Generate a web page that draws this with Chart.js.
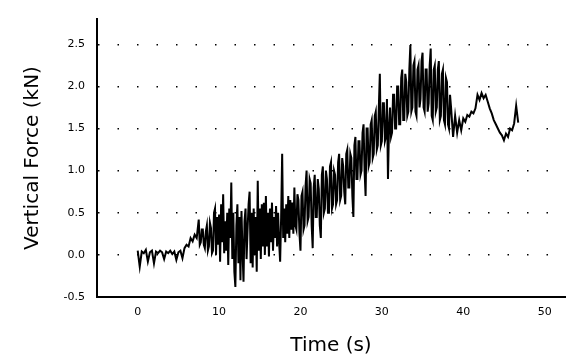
<!DOCTYPE html>
<html>
<head>
<meta charset="utf-8">
<script src="https://cdn.jsdelivr.net/npm/chart.js@4/dist/chart.umd.min.js"></script>
<style>
    html, body { margin: 0; padding: 0; background: #ffffff; }
    #forceChart { display: block; }
</style>
</head>
<body>
<canvas id="forceChart" width="571" height="358"></canvas>
<script>
// Time (s): every 0.25 s in the quiet parts, every 0.125 s in the noisy middle
const timeSec = [
    0, 0.25, 0.5, 0.75, 1, 1.25, 1.5, 1.75, 2, 2.25, 2.5, 2.75, 3, 3.25, 3.5, 3.75,
    4, 4.25, 4.5, 4.75, 5, 5.25, 5.5, 5.75, 6, 6.25, 6.5, 6.75, 7, 7.25,
    7.5, 7.625, 7.75, 7.875, 8, 8.125, 8.25, 8.375, 8.5, 8.625, 8.75, 8.875, 9, 9.125, 9.25, 9.375,
    9.5, 9.625, 9.75, 9.875, 10, 10.125, 10.25, 10.375, 10.5, 10.625, 10.75, 10.875, 11, 11.125, 11.25, 11.375,
    11.5, 11.625, 11.75, 11.875, 12, 12.125, 12.25, 12.375, 12.5, 12.625, 12.75, 12.875, 13, 13.125, 13.25, 13.375,
    13.5, 13.625, 13.75, 13.875, 14, 14.125, 14.25, 14.375, 14.5, 14.625, 14.75, 14.875, 15, 15.125, 15.25, 15.375,
    15.5, 15.625, 15.75, 15.875, 16, 16.125, 16.25, 16.375, 16.5, 16.625, 16.75, 16.875, 17, 17.125, 17.25, 17.375,
    17.5, 17.625, 17.75, 17.875, 18, 18.125, 18.25, 18.375, 18.5, 18.625, 18.75, 18.875, 19, 19.125, 19.25, 19.375,
    19.5, 19.625, 19.75, 19.875, 20, 20.125, 20.25, 20.375, 20.5, 20.625, 20.75, 20.875, 21, 21.125, 21.25, 21.375,
    21.5, 21.625, 21.75, 21.875, 22, 22.125, 22.25, 22.375, 22.5, 22.625, 22.75, 22.875, 23, 23.125, 23.25, 23.375,
    23.5, 23.625, 23.75, 23.875, 24, 24.125, 24.25, 24.375, 24.5, 24.625, 24.75, 24.875, 25, 25.125, 25.25, 25.375,
    25.5, 25.625, 25.75, 25.875, 26, 26.125, 26.25, 26.375, 26.5, 26.625, 26.75, 26.875, 27, 27.125, 27.25, 27.375,
    27.5, 27.625, 27.75, 27.875, 28, 28.125, 28.25, 28.375, 28.5, 28.625, 28.75, 28.875, 29, 29.125, 29.25, 29.375,
    29.5, 29.625, 29.75, 29.875, 30, 30.125, 30.25, 30.375, 30.5, 30.625, 30.75, 30.875, 31, 31.125, 31.25, 31.375,
    31.5, 31.625, 31.75, 31.875, 32, 32.125, 32.25, 32.375, 32.5, 32.625, 32.75, 32.875, 33, 33.125, 33.25, 33.375,
    33.5, 33.625, 33.75, 33.875, 34, 34.125, 34.25, 34.375, 34.5, 34.625, 34.75, 34.875, 35, 35.125, 35.25, 35.375,
    35.5, 35.625, 35.75, 35.875, 36, 36.125, 36.25, 36.375, 36.5, 36.625, 36.75, 36.875, 37, 37.125, 37.25, 37.375,
    37.5, 37.625, 37.75, 37.875, 38, 38.125, 38.25, 38.375, 38.5,
    38.75, 39, 39.25, 39.5, 39.75,
    40, 40.25, 40.5, 40.75, 41, 41.25, 41.5, 41.75, 42, 42.25, 42.5, 42.75, 43, 43.25, 43.5, 43.75,
    44, 44.25, 44.5, 44.75, 45, 45.25, 45.5, 45.75, 46, 46.25, 46.5, 46.75
];

// Vertical force (kN)
const forceKN = [
    0.05, -0.14, 0.04, 0.02, 0.06, -0.08, 0.03, 0.05, -0.1, 0.04, 0.02, 0.05, 0.03, -0.05, 0.04, 0.02,
    0.05, 0.01, 0.04, -0.06, 0.03, 0.05, -0.04, 0.08, 0.12, 0.1, 0.2, 0.16, 0.24, 0.2,
    0.42, 0.12, 0.15, 0.3, 0.3, 0.12, 0.08, 0.28, 0.35, 0.05, 0.1, 0.38, 0.32, 0.02, 0.05, 0.5,
    0.55, 0.0, 0.45, 0.12, 0.48, -0.08, 0.6, 0.15, 0.72, 0.02, 0.4, 0.05, 0.5, -0.12, 0.55, 0.2,
    0.86, -0.05, 0.5, -0.2, -0.38, 0.35, 0.6, -0.1, 0.45, -0.3, 0.52, 0.05, -0.32, 0.4, 0.55, -0.05,
    0.3, 0.6, 0.75, -0.1, 0.5, -0.15, 0.55, 0.0, 0.45, -0.2, 0.88, 0.05, 0.55, -0.05, 0.6, 0.1,
    0.62, 0.0, 0.7, 0.1, 0.5, -0.02, 0.55, 0.15, 0.62, 0.05, 0.45, 0.2, 0.58, 0.1, 0.5, 0.15,
    -0.08, 0.45, 1.2, 0.2, 0.55, 0.15, 0.6, 0.25, 0.7, 0.2, 0.65, 0.3, 0.62, 0.25, 0.8, 0.35,
    0.3, 0.72, 0.65, 0.25, 0.05, 0.7, 0.75, 0.3, 0.35, 0.82, 1.0, 0.4, 0.45, 0.9, 0.85, 0.35,
    0.08, 0.8, 0.95, 0.45, 0.45, 0.9, 0.78, 0.35, 0.2, 0.95, 1.05, 0.5, 0.55, 1.0, 0.9, 0.5,
    0.5, 1.05, 1.1, 0.55, 0.6, 1.0, 0.95, 0.6, 0.65, 1.1, 1.2, 0.65, 0.7, 1.15, 1.05, 0.75,
    0.6, 1.2, 1.25, 0.8, 0.8, 1.2, 1.15, 0.7, 0.45, 1.3, 1.4, 0.9, 0.9, 1.35, 1.35, 0.95,
    1.0, 1.45, 1.55, 1.0, 0.7, 1.5, 1.5, 1.05, 1.1, 1.55, 1.6, 1.15, 1.2, 1.65, 1.7, 1.25,
    1.3, 1.75, 2.15, 1.3, 1.35, 1.8, 1.8, 1.35, 1.4, 1.85, 0.9, 1.5, 1.75, 1.4, 1.45, 1.9,
    1.9, 1.5, 1.5, 2.0, 2.0, 1.55, 1.55, 2.1, 2.2, 1.6, 1.6, 2.15, 2.05, 1.65, 1.7, 2.2,
    2.49, 1.7, 1.75, 2.25, 2.3, 1.7, 1.65, 2.2, 2.25, 1.75, 1.85, 2.3, 2.4, 1.75, 1.7, 2.2,
    2.2, 1.7, 1.8, 2.25, 2.45, 1.65, 1.6, 2.2, 2.25, 1.7, 1.75, 2.2, 2.3, 1.6, 1.65, 2.15,
    2.2, 1.6, 1.55, 2.1, 2.05, 1.55, 1.5, 1.9, 1.75,
    1.4, 1.65, 1.45, 1.6, 1.48,
    1.62, 1.58, 1.66, 1.64, 1.7, 1.68, 1.74, 1.9, 1.84, 1.92, 1.86, 1.9, 1.82, 1.74, 1.68, 1.6,
    1.55, 1.5, 1.45, 1.42, 1.36, 1.44, 1.4, 1.5, 1.48, 1.56, 1.77, 1.57
];

const xTicks = [0, 10, 20, 30, 40, 50];
const yTicks = [-0.5, 0.0, 0.5, 1.0, 1.5, 2.0, 2.5];

const tickFont = { family: 'DejaVu Sans', size: 11 };
const titleFont = { family: 'DejaVu Sans', size: 20 };

const points = timeSec.map((t, i) => ({ x: t, y: forceKN[i] }));

const ctx = document.querySelector('#forceChart').getContext('2d');

new Chart(ctx, {
    type: 'line',
    data: {
        datasets: [
            {
                label: 'Vertical Force',
                data: points,
                borderColor: '#000000',
                borderWidth: 2,
                pointRadius: 0,
                tension: 0,
                fill: false
            }
        ]
    },
    options: {
        responsive: false,
        animation: false,
        layout: { padding: { left: 0, right: 6, top: 19, bottom: 0 } },
        scales: {
            x: {
                type: 'linear',
                min: -5,
                max: 52.5,
                afterBuildTicks: (scale) => { scale.ticks = xTicks.map(v => ({ value: v })); },
                afterFit: (scale) => { scale.height = 61; },
                grid: { display: false, drawTicks: false },
                border: { display: true, color: '#000000', width: 2 },
                ticks: { color: '#000000', font: tickFont, padding: 9, maxRotation: 0 },
                title: {
                    display: true,
                    text: 'Time (s)',
                    color: '#000000',
                    font: titleFont,
                    padding: { top: 0, bottom: 0 }
                }
            },
            y: {
                type: 'linear',
                min: -0.5,
                max: 2.8,
                afterBuildTicks: (scale) => { scale.ticks = yTicks.map(v => ({ value: v })); },
                afterFit: (scale) => { scale.width = 97; },
                grid: { display: true, drawTicks: false, color: '#000000', lineWidth: 1.5 },
                border: { display: true, color: '#000000', width: 2, dash: [1.5, 18] },
                ticks: {
                    color: '#000000',
                    font: tickFont,
                    padding: 12,
                    callback: (value) => Number(value).toFixed(1)
                },
                title: {
                    display: true,
                    text: 'Vertical Force (kN)',
                    color: '#000000',
                    font: titleFont,
                    padding: { top: 21, bottom: 0 }
                }
            }
        },
        plugins: {
            legend: { display: false },
            tooltip: { enabled: false }
        }
    }
});
</script>
</body>
</html>
